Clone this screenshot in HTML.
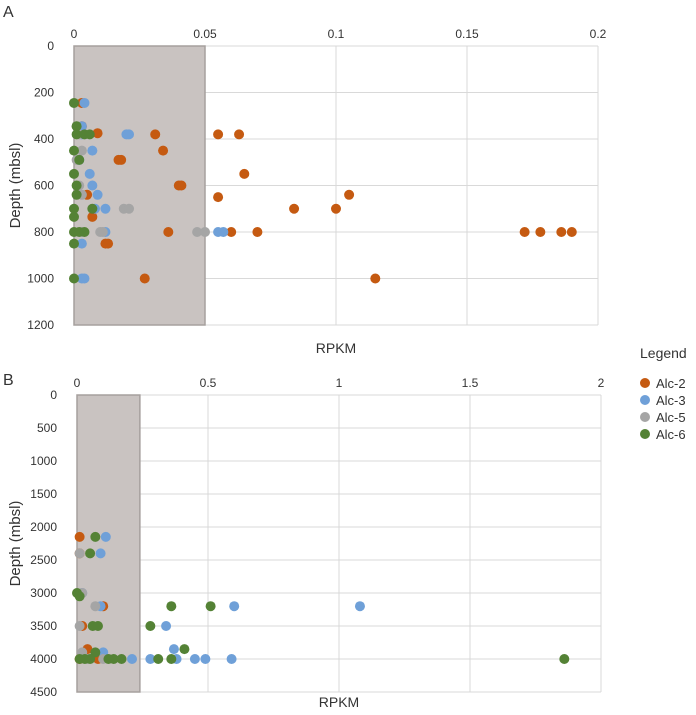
<!DOCTYPE html>
<html><head><meta charset="utf-8"><style>
body{margin:0;background:#fff;font-family:"Liberation Sans",sans-serif;}
svg text{font-family:"Liberation Sans",sans-serif;fill:#333;}
</style></head><body>
<svg id="c" width="696" height="710" xmlns="http://www.w3.org/2000/svg">
<text x="3" y="17" font-size="16">A</text>
<text x="3" y="385" font-size="16">B</text>
<g id="gA"></g>
<g id="gB"></g>
<g>
<text x="640" y="358" font-size="14">Legend</text>
<circle cx="645" cy="383" r="5" fill="#c55a11"/>
<text x="656" y="388" font-size="13">Alc-2</text>
<circle cx="645" cy="400" r="5" fill="#6fa0d8"/>
<text x="656" y="405" font-size="13">Alc-3</text>
<circle cx="645" cy="417" r="5" fill="#a5a5a5"/>
<text x="656" y="422" font-size="13">Alc-5</text>
<circle cx="645" cy="434" r="5" fill="#548235"/>
<text x="656" y="439" font-size="13">Alc-6</text>
</g>
</svg>
<script>
const colors=["#c55a11","#6fa0d8","#a5a5a5","#548235"];
const seriesNames=["alc2","alc3","alc5","alc6"];
// Panel A
const aXTicks=[0,0.05,0.1,0.15,0.2];
const aXTickLabels=["0","0.05","0.1","0.15","0.2"];
const aYTicks=[0,200,400,600,800,1000,1200];
const aAlc2X=[0.003,0.003,0.009,0.031,0.055,0.063,0.034,0.018,0.017,0.065,0.040,0.041,0.055,0.105,0.005,0.084,0.100,0.007,0.036,0.060,0.070,0.172,0.178,0.186,0.190,0.012,0.013,0.027,0.115];
const aAlc2Y=[245,345,375,380,380,380,450,490,490,550,600,600,650,640,640,700,700,735,800,800,800,800,800,800,800,850,850,1000,1000];
const aAlc3X=[0.004,0.003,0.020,0.021,0.007,0.006,0.007,0.009,0.012,0.008,0.055,0.057,0.012,0.003,0.003,0.004,0.002,0.003];
const aAlc3Y=[245,345,380,380,450,550,600,640,700,700,800,800,800,850,1000,1000,490,380];
const aAlc5X=[0.001,0.002,0.003,0.001,0.002,0.003,0.019,0.021,0.047,0.050,0.010,0.003,0.011];
const aAlc5Y=[345,380,450,490,600,640,700,700,800,800,800,800,800];
const aAlc6X=[0,0.001,0.001,0.004,0.006,0,0.002,0,0.001,0.001,0,0.007,0,0,0.002,0.004,0,0];
const aAlc6Y=[245,345,380,380,380,450,490,550,600,640,700,700,735,800,800,800,850,1000];
// Panel B
const bXTicks=[0,0.5,1,1.5,2];
const bXTickLabels=["0","0.5","1","1.5","2"];
const bYTicks=[0,500,1000,1500,2000,2500,3000,3500,4000,4500];
const bAlc2X=[0.01,0.01,0.10,0.02,0.04,0.01,0.08];
const bAlc2Y=[2150,2400,3200,3500,3850,4000,4000];
const bAlc3X=[0.11,0.09,0.02,0.09,1.08,0.60,0.34,0.37,0.28,0.38,0.45,0.49,0.59,0.21,0.10];
const bAlc3Y=[2150,2400,3000,3200,3200,3200,3500,3850,4000,4000,4000,4000,4000,4000,3900];
const bAlc5X=[0.01,0.07,0.01,0.02,0.10,0.04,0.02];
const bAlc5Y=[2400,3200,3500,3000,4000,4000,3900];
const bAlc6X=[0.07,0.05,0.00,0.01,0.36,0.51,0.06,0.08,0.28,0.41,0.31,0.36,0.17,0.14,0.07,0.03,0.05,1.86,0.12,0.01];
const bAlc6Y=[2150,2400,3000,3050,3200,3200,3500,3500,3500,3850,4000,4000,4000,4000,3900,4000,4000,4000,4000,4000];

const NS="http://www.w3.org/2000/svg";
function mk(tag,attrs,parent){const e=document.createElementNS(NS,tag);for(const k in attrs)e.setAttribute(k,attrs[k]);parent.appendChild(e);return e;}
function panel(g,cfg){
  const sx=v=>cfg.x0+(v-cfg.xmin)/(cfg.xmax-cfg.xmin)*(cfg.x1-cfg.x0);
  const sy=v=>cfg.y0+(v-cfg.ymin)/(cfg.ymax-cfg.ymin)*(cfg.y1-cfg.y0);
  cfg.xTicks.forEach((t,i)=>{
    const l=mk('line',{x1:sx(t),x2:sx(t),y1:cfg.y0,y2:cfg.y1,stroke:'#d9d9d9','stroke-width':1},g);
    
    
    const tx=mk('text',{x:sx(t),y:cfg.y0-8,'font-size':12,'text-anchor':'middle'},g);
    tx.textContent=cfg.xLabels[i];
    
    
  });
  cfg.yTicks.forEach(t=>{
    const l=mk('line',{x1:cfg.x0,x2:cfg.x1,y1:sy(t),y2:sy(t),stroke:'#d9d9d9','stroke-width':1},g);
    
    
    const tx=mk('text',{x:cfg.x0-20,y:sy(t)+4,'font-size':12,'text-anchor':'end'},g);
    tx.textContent=String(t);
    
    
  });
  const r=mk('rect',{x:sx(0),y:cfg.y0,width:sx(cfg.shade)-sx(0),height:cfg.y1-cfg.y0,fill:'#c9c3c1',stroke:'#a6a09e','stroke-width':1.5},g);
  
  
  cfg.series.forEach((s,si)=>{
    s[0].forEach((xv,i)=>{
      const c=mk('circle',{cx:sx(xv),cy:sy(s[1][i]),r:5,fill:colors[si]},g);
      
      
    });
  });
  const xt=mk('text',{x:(cfg.x0+cfg.x1)/2,y:cfg.xTitleY,'font-size':14,'text-anchor':'middle'},g);
  xt.textContent='RPKM';
  
  
  const cy=(cfg.y0+cfg.y1)/2;
  const yt=mk('text',{x:20,y:cy,'font-size':15,'text-anchor':'middle',transform:'rotate(-90 20 '+cy+')'},g);
  yt.textContent='Depth (mbsl)';
  
  
}
panel(document.getElementById('gA'),{x0:74,x1:598,y0:46,y1:325,xmin:0,xmax:0.2,ymin:0,ymax:1200,shade:0.05,
 xTicks:aXTicks,xLabels:aXTickLabels,yTicks:aYTicks,xTitleY:353,
 series:[[aAlc2X,aAlc2Y],[aAlc3X,aAlc3Y],[aAlc5X,aAlc5Y],[aAlc6X,aAlc6Y]]});
panel(document.getElementById('gB'),{x0:77,x1:601,y0:395,y1:692,xmin:0,xmax:2,ymin:0,ymax:4500,shade:0.24,
 xTicks:bXTicks,xLabels:bXTickLabels,yTicks:bYTicks,xTitleY:707,
 series:[[bAlc2X,bAlc2Y],[bAlc3X,bAlc3Y],[bAlc5X,bAlc5Y],[bAlc6X,bAlc6Y]]});
</script>
</body></html>
